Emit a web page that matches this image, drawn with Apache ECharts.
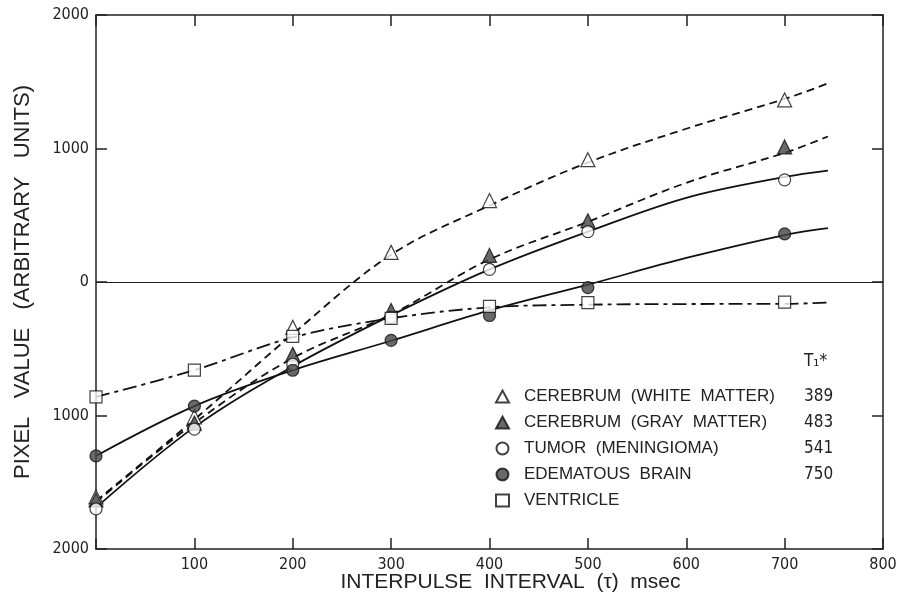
<!DOCTYPE html>
<html>
<head>
<meta charset="utf-8">
<script src="https://cdn.jsdelivr.net/npm/echarts@6/dist/echarts.min.js"></script>
<style>
  html, body { margin: 0; padding: 0; background: #fff; }
  #chart { width: 902px; height: 601px; }
</style>
</head>
<body>
<div id="chart"></div>
<script>
  // measured points (msec, pixel value)
  var pointX = [0, 100, 200, 300, 400, 500, 700];
  var whiteMatter = [-1610, -1010, -340, 222, 610, 916, 1364];
  var grayMatter = [-1633, -1057, -542, -213, 199, 459, 1012];
  var tumor = [-1700, -1102, -616, -265, 94, 377, 765];
  var edema = [-1303, -930, -661, -437, -251, -42, 360];
  var ventricle = [-861, -660, -407, -272, -183, -155, -150];

  // fitted curves
  var curveX = [0, 100, 200, 300, 400, 500, 600, 700, 744];
  var whiteCurve = [-1640, -1030, -390, 205, 573, 895, 1148, 1371, 1488];
  var grayCurve = [-1650, -1057, -570, -243, 169, 451, 743, 967, 1090];
  var tumorCurve = [-1690, -1087, -632, -250, 94, 377, 631, 787, 835];
  var edemaCurve = [-1303, -930, -661, -440, -213, -20, 180, 352, 403];
  var ventricleCurve = [-861, -660, -415, -272, -190, -170, -165, -164, -154];

  var legendNames = ['CEREBRUM  (WHITE  MATTER)', 'CEREBRUM  (GRAY  MATTER)', 'TUMOR  (MENINGIOMA)', 'EDEMATOUS  BRAIN', 'VENTRICLE'];
  var t1Values = ['389', '483', '541', '750', ''];

  var font = "'Liberation Sans', 'DejaVu Sans', sans-serif";
  var tickFont = "'DejaVu Sans Condensed', 'Liberation Sans Narrow', sans-serif";

  function pairs(xs, ys) {
    var out = [];
    for (var i = 0; i < xs.length; i++) out.push([xs[i], ys[i]]);
    return out;
  }

  function curve(ys, dash) {
    return {
      type: 'line',
      data: pairs(curveX, ys),
      smooth: 0.35,
      showSymbol: false,
      silent: true,
      z: 2,
      lineStyle: { color: '#111', width: 1.8, type: dash }
    };
  }

  function points(name, ys, symbol, fill) {
    return {
      type: 'scatter',
      name: name,
      data: pairs(pointX, ys),
      symbol: symbol,
      symbolSize: symbol === 'triangle' ? 14 : 12,
      z: 5,
      itemStyle: { color: fill, borderColor: '#111', borderWidth: 1.2 }
    };
  }

  var myChart = echarts.init(document.getElementById('chart'));
  myChart.setOption({
    animation: false,
    backgroundColor: '#fff',
    textStyle: { fontFamily: font },
    grid: { left: 96, right: 19, top: 15, bottom: 52, outerBoundsMode: 'none', containLabel: false },
    legend: {
      orient: 'vertical',
      left: 490,
      top: 383,
      itemWidth: 13,
      itemHeight: 12,
      itemGap: 9,
      data: legendNames,
      formatter: function (name) {
        var i = legendNames.indexOf(name);
        return '{n|' + name + '}{t|' + t1Values[i] + '}';
      },
      textStyle: {
        fontFamily: font,
        color: '#222',
        rich: {
          n: { fontSize: 17, width: 280, padding: [0, 0, 0, 10], fontFamily: font, color: '#222' },
          t: { fontSize: 17, fontFamily: tickFont, color: '#222' }
        }
      }
    },
    graphic: [{
      type: 'text',
      left: 804,
      top: 353,
      style: { text: 'T₁*', font: "17px 'DejaVu Sans Condensed', sans-serif", fill: '#222' }
    }],
    xAxis: [{
      type: 'value',
      min: 0,
      max: 800,
      interval: 100,
      name: 'INTERPULSE  INTERVAL  (τ)  msec',
      nameLocation: 'middle',
      nameGap: 23,
      nameMoveOverlap: false,
      nameTextStyle: { fontFamily: font, fontSize: 21, color: '#222', padding: [0, 0, 0, 42] },
      axisLine: { onZero: false, lineStyle: { color: '#222', width: 1.5 } },
      axisTick: { inside: true, length: 11, lineStyle: { color: '#222', width: 1.5 } },
      axisLabel: {
        margin: 8,
        fontSize: 16,
        color: '#222',
        fontFamily: tickFont,
        formatter: function (v) { return v === 0 ? '' : String(v); }
      },
      splitLine: { show: false }
    }, {
      type: 'value',
      position: 'top',
      min: 0,
      max: 800,
      interval: 100,
      axisLine: { onZero: false, lineStyle: { color: '#222', width: 1.5 } },
      axisTick: { inside: true, length: 11, lineStyle: { color: '#222', width: 1.5 } },
      axisLabel: { show: false },
      splitLine: { show: false }
    }],
    yAxis: [{
      type: 'value',
      min: -2000,
      max: 2000,
      interval: 1000,
      name: 'PIXEL   VALUE   (ARBITRARY   UNITS)',
      nameLocation: 'middle',
      nameGap: 62,
      nameTextStyle: { fontFamily: font, fontSize: 22, color: '#222' },
      axisLine: { show: true, onZero: false, lineStyle: { color: '#222', width: 1.5 } },
      axisTick: { show: true, inside: true, length: 11, lineStyle: { color: '#222', width: 1.5 } },
      axisLabel: {
        margin: 7,
        fontSize: 16,
        color: '#222',
        fontFamily: tickFont,
        formatter: function (v) { return String(Math.abs(v)); }
      },
      splitLine: { show: false }
    }, {
      type: 'value',
      position: 'right',
      min: -2000,
      max: 2000,
      interval: 1000,
      axisLine: { show: true, onZero: false, lineStyle: { color: '#222', width: 1.5 } },
      axisTick: { show: true, inside: true, length: 11, lineStyle: { color: '#222', width: 1.5 } },
      axisLabel: { show: false },
      splitLine: { show: false }
    }],
    series: [
      Object.assign(curve(whiteCurve, [8, 5]), {
        markLine: {
          silent: true,
          symbol: 'none',
          label: { show: false },
          lineStyle: { color: '#222', width: 1.2, type: 'solid' },
          data: [{ yAxis: 0 }]
        }
      }),
      curve(grayCurve, [8, 5]),
      curve(tumorCurve, 'solid'),
      curve(edemaCurve, 'solid'),
      curve(ventricleCurve, [14, 5, 4, 5]),
      points(legendNames[0], whiteMatter, 'triangle', '#fff'),
      points(legendNames[1], grayMatter, 'triangle', '#444'),
      points(legendNames[2], tumor, 'circle', '#fff'),
      points(legendNames[3], edema, 'circle', '#444'),
      points(legendNames[4], ventricle, 'rect', '#fff')
    ]
  });
</script>
</body>
</html>
